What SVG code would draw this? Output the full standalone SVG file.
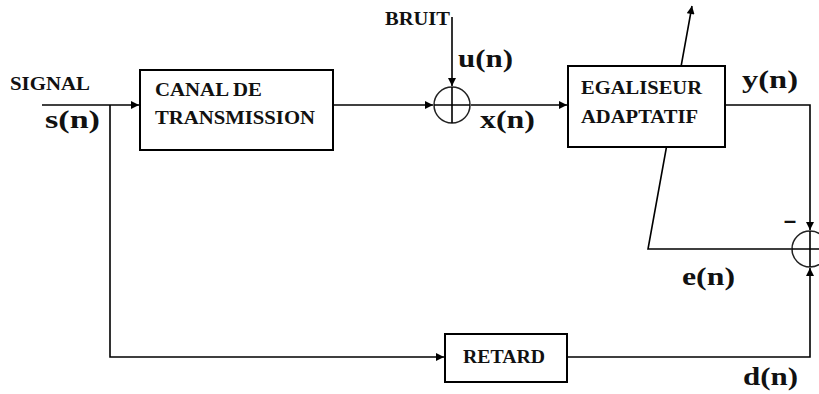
<svg xmlns="http://www.w3.org/2000/svg" width="819" height="394" viewBox="0 0 819 394">
<defs>
<marker id="ah" viewBox="0 0 10 10" refX="10" refY="5" markerWidth="9" markerHeight="8" markerUnits="userSpaceOnUse" orient="auto">
<path d="M0,0 L10,5 L0,10 Z" fill="#000"/>
</marker>
</defs>
<style>
.box{fill:#fff;stroke:#000;stroke-width:2}
.ln{fill:none;stroke:#000;stroke-width:1.6}
.sum{fill:none;stroke:#222;stroke-width:1.5}
.s{font-family:"Liberation Serif","Times New Roman",serif;font-weight:bold;font-size:19px;fill:#111}
.b{font-family:"Liberation Serif","Times New Roman",serif;font-weight:bold;font-size:25px;fill:#111}
</style>
<rect width="819" height="394" fill="#fff"/>
<g id="connectors">
<path class="ln" d="M42,105 H139" marker-end="url(#ah)"/>
<path class="ln" d="M110,105 V357 H444" marker-end="url(#ah)"/>
<path class="ln" d="M334,105 H433" marker-end="url(#ah)"/>
<path class="ln" d="M452,17 V86" marker-end="url(#ah)"/>
<path class="ln" d="M471,105 H567" marker-end="url(#ah)"/>
<path class="ln" d="M725,105 H810 V230" marker-end="url(#ah)"/>
<path class="ln" d="M568,357 H810 V268" marker-end="url(#ah)"/>
<path class="ln" d="M792,249 H648 L692,6" marker-end="url(#ah)"/>
</g>
<g id="signal">
<text class="s" x="10" y="90" textLength="80" lengthAdjust="spacingAndGlyphs">SIGNAL</text>
<text class="b" x="45" y="128" textLength="55" lengthAdjust="spacingAndGlyphs">s(n)</text>
</g>
<g id="canal">
<rect class="box" x="140" y="70" width="193" height="80"/>
<text class="s" x="155" y="96" textLength="107" lengthAdjust="spacingAndGlyphs">CANAL DE</text>
<text class="s" x="155" y="124" textLength="160" lengthAdjust="spacingAndGlyphs">TRANSMISSION</text>
</g>
<g id="sum1">
<circle class="sum" cx="452" cy="105" r="18"/>
<path class="ln" d="M434,105 H470 M452,87 V123"/>
<text class="s" x="385" y="25" textLength="65" lengthAdjust="spacingAndGlyphs">BRUIT</text>
<text class="b" x="458" y="67" textLength="55" lengthAdjust="spacingAndGlyphs">u(n)</text>
<text class="b" x="480" y="128" textLength="55" lengthAdjust="spacingAndGlyphs">x(n)</text>
</g>
<g id="egaliseur">
<rect class="box" x="568" y="66" width="157" height="81"/>
<text class="s" x="581" y="94" textLength="121" lengthAdjust="spacingAndGlyphs">EGALISEUR</text>
<text class="s" x="581" y="123" textLength="117" lengthAdjust="spacingAndGlyphs">ADAPTATIF</text>
<text class="b" x="742" y="88" textLength="56" lengthAdjust="spacingAndGlyphs">y(n)</text>
</g>
<g id="sum2">
<circle class="sum" cx="810" cy="249" r="18"/>
<path class="ln" d="M792,249 H819 M810,231 V267"/>
<text class="b" x="783" y="228" textLength="14" lengthAdjust="spacingAndGlyphs">-</text>
<text class="b" x="682" y="285" textLength="53" lengthAdjust="spacingAndGlyphs">e(n)</text>
</g>
<g id="retard">
<rect class="box" x="445" y="334" width="122" height="48"/>
<text class="s" x="463" y="363" textLength="82" lengthAdjust="spacingAndGlyphs">RETARD</text>
<text class="b" x="743" y="385" textLength="55" lengthAdjust="spacingAndGlyphs">d(n)</text>
</g>
</svg>
